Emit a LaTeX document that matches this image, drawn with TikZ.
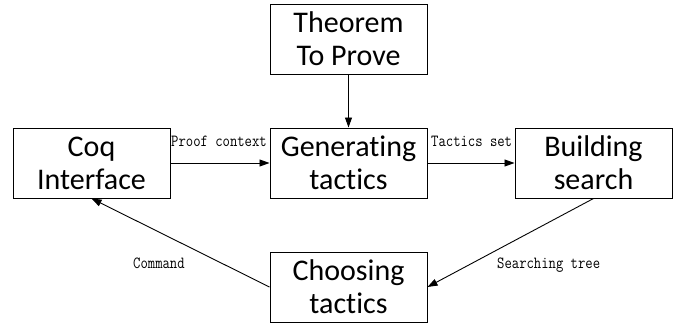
\documentclass[tikz,border=0pt]{standalone}
\usepackage{fontspec}
\usepackage{graphicx}
\setsansfont{Carlito}[Ligatures=NoCommon]
\usetikzlibrary{arrows.meta}
\tikzset{
  stage/.style={draw, line width=1pt, minimum width=157pt, minimum height=70pt,
    inner sep=0pt, align=center, font=\sffamily\fontsize{30}{33}\selectfont},
  flow/.style={line width=0.9pt, -{Triangle[length=10pt,width=7pt]}},
  tag/.style={inner sep=0pt, anchor=base west, font=\ttfamily\fontsize{17}{18}\selectfont}
}
\newcommand{\narrow}[1]{\scalebox{0.84}[1]{#1}}
\begin{document}
\begin{tikzpicture}[x=1pt, y=-1pt]
  \useasboundingbox (0,0) rectangle (680,324);
  \node[stage] (thm)    at (348.5,39)  {Theorem\\To Prove};
  \node[stage] (coq)    at (91.5,163)  {Coq\\Interface};
  \node[stage] (gen)    at (348.5,163) {Generating\\tactics};
  \node[stage] (build)  at (593.5,163) {Building\\search};
  \node[stage] (choose) at (348.5,287) {Choosing\\tactics};

  \draw[flow] (thm) -- (gen);
  \draw[flow] (coq) -- (gen);
  \draw[flow] (gen) -- (build);
  \draw[flow] (build.south) -- (choose.east);
  \draw[flow] (choose.west) -- (coq.south);

  \node[tag] (l1) at (171,146) {\narrow{Proof context}};
  \node[tag] (l2) at (431,146) {\narrow{Tactics set}};
  \node[tag] (l3) at (133,268) {\narrow{Command}};
  \node[tag] (l4) at (497,268) {\narrow{Searching tree}};
\end{tikzpicture}
\end{document}
